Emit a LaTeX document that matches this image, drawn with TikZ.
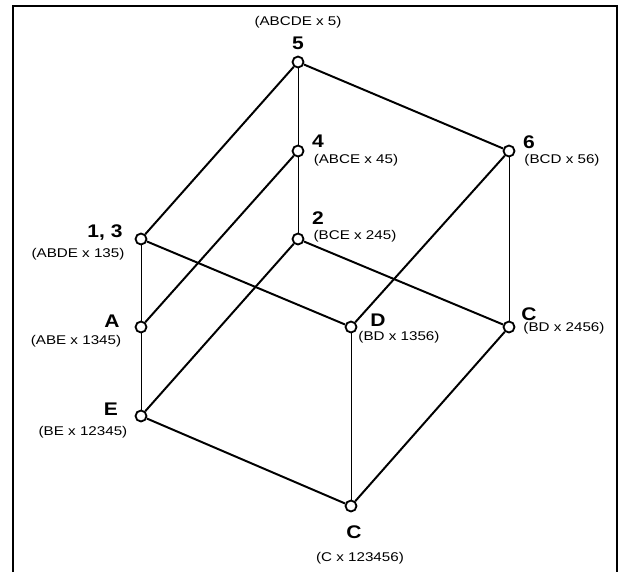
\documentclass[tikz,border=0pt]{standalone}
\usepackage{fontspec}
\setmainfont{Liberation Sans}
\usetikzlibrary{positioning}

\begin{document}
\begin{tikzpicture}[x=0.025cm, y=-0.025cm,
    pt/.style={circle, draw, fill=white, line width=1.3pt, minimum size=7.8pt, inner sep=0pt},
    num/.style={inner sep=0pt, font=\fontsize{13}{15}\selectfont\bfseries, xscale=1.15},
    ext/.style={inner sep=0pt, font=\fontsize{9}{10}\selectfont, xscale=1.2},
    edge/.style={line width=1.4pt},
    rung/.style={line width=0.7pt}]
  \useasboundingbox (0,0) rectangle (618,572);
  % frame, open at the bottom
  \draw[line width=1.3pt] (13,572) -- (13,6) -- (617,6) -- (617,572);

  % points of the lattice
  \node[pt] (p5) at (298,62) {};
  \node[pt] (p4) at (298,151) {};
  \node[pt] (p6) at (509,151) {};
  \node[pt] (p13) at (141,239) {};
  \node[pt] (p2) at (298,239) {};
  \node[pt] (pA) at (141,327) {};
  \node[pt] (pD) at (351,327) {};
  \node[pt] (pCr) at (509,327) {};
  \node[pt] (pE) at (141,416) {};
  \node[pt] (pCb) at (351,506) {};

  % labels
  \node[ext] (e5) at (298,22) {(ABCDE x 5)};
  \node[num] (n5) at (298,43) {5};
  \node[num] (n4) at (318,141) {4};
  \node[ext] (e4) at (356,160) {(ABCE x 45)};
  \node[num] (n6) at (529,142) {6};
  \node[ext] (e6) at (562,160) {(BCD x 56)};
  \node[num] (n13) at (105,233) {1, 3};
  \node[ext] (e13) at (78,254) {(ABDE x 135)};
  \node[num] (n2) at (318,218) {2};
  \node[ext] (e2) at (355,236) {(BCE x 245)};
  \node[num] (nA) at (112,321) {A};
  \node[ext] (eA) at (76,341) {(ABE x 1345)};
  \node[num] (nD) at (378,320) {D};
  \node[ext] (eD) at (399,337) {(BD x 1356)};
  \node[num] (nCr) at (529,314) {C};
  \node[ext] (eCr) at (564,328) {(BD x 2456)};
  \node[num] (nE) at (111,409) {E};
  \node[ext] (eE) at (83,432) {(BE x 12345)};
  \node[num] (nCb) at (354,532) {C};
  \node[ext] (eCb) at (360,558) {(C x 123456)};

  % thin vertical links
  \draw[rung] (p5) -- (p4); \draw[rung] (p4) -- (p2);
  \draw[rung] (p13) -- (pA); \draw[rung] (pA) -- (pE);
  \draw[rung] (p6) -- (pCr); \draw[rung] (pD) -- (pCb);

  % heavy links
  \draw[edge] (p5) -- (p6);
  \draw[edge] (p5) -- (p13);
  \draw[edge] (p4) -- (pA);
  \draw[edge] (p6) -- (pD);
  \draw[edge] (p13) -- (pD);
  \draw[edge] (p2) -- (pCr);
  \draw[edge] (p2) -- (pE);
  \draw[edge] (pCr) -- (pCb);
  \draw[edge] (pE) -- (pCb);
\end{tikzpicture}
\end{document}
